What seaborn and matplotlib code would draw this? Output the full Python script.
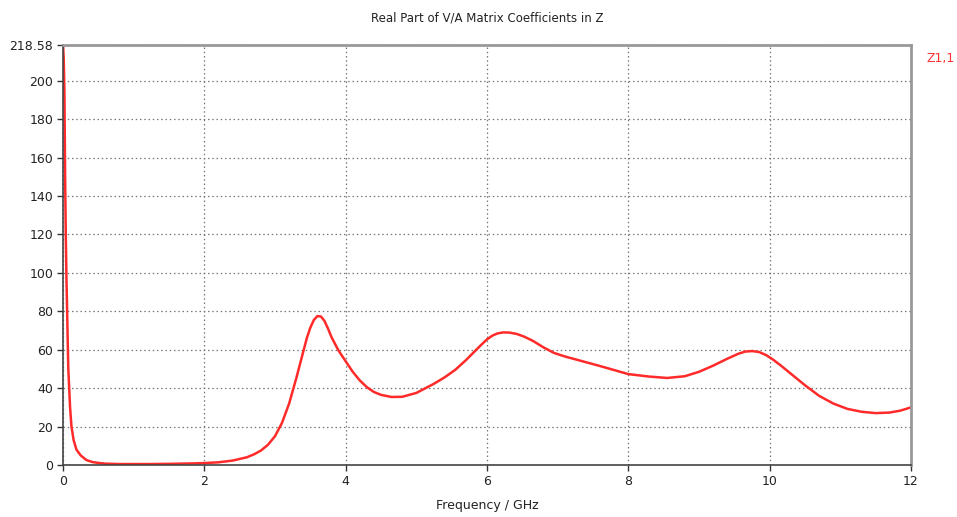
import matplotlib
matplotlib.use("Agg")
import matplotlib.pyplot as plt
import seaborn as sns
import pandas as pd

freq = [0.0, 0.01, 0.02, 0.03, 0.04, 0.05, 0.075, 0.10, 0.12, 0.15, 0.19, 0.25, 0.33, 0.42,
        0.52, 0.60, 0.80, 1.00, 1.20, 1.50, 1.80, 2.00, 2.20, 2.40, 2.60, 2.70, 2.80, 2.90, 3.00,
        3.10, 3.20, 3.30, 3.40, 3.45, 3.50, 3.55, 3.60, 3.65, 3.70, 3.75, 3.80, 3.90, 4.00, 4.10, 4.20,
        4.30, 4.40, 4.50, 4.65, 4.80, 5.00, 5.12, 5.25, 5.40, 5.55, 5.70, 5.83, 5.92, 6.00, 6.08, 6.15, 6.23,
        6.32, 6.42, 6.52, 6.65, 6.80, 6.95, 7.10, 7.30, 7.60, 8.00, 8.30, 8.55, 8.80, 9.00, 9.20, 9.40, 9.55,
        9.65, 9.75, 9.85, 9.95, 10.05, 10.15, 10.30, 10.50, 10.70, 10.90, 11.10, 11.30, 11.50, 11.70, 11.85,
        12.00]
z11 = [218.58, 212.0, 195.0, 150.0, 118.0, 95.0, 50.0, 30.0, 20.0, 13.0, 8.0, 5.0, 2.6, 1.5,
       1.0, 0.7, 0.5, 0.5, 0.5, 0.6, 0.8, 1.0, 1.4, 2.3, 4.0, 5.5, 7.5, 10.5, 15.0,
       22.0, 32.0, 45.0, 59.0, 66.0, 71.5, 75.5, 77.5, 77.3, 75.0, 71.0, 66.5, 59.5, 54.0, 48.5, 44.0,
       40.5, 38.0, 36.5, 35.4, 35.5, 37.5, 39.8, 42.3, 45.6, 49.5, 54.5, 59.3, 62.6, 65.4, 67.4, 68.5, 69.0,
       68.9, 68.2, 66.9, 64.6, 61.2, 58.3, 56.5, 54.5, 51.5, 47.3, 46.0, 45.3, 46.2, 48.5, 51.7, 55.3, 57.8,
       59.0, 59.3, 58.8, 57.2, 54.8, 52.0, 47.5, 41.5, 36.0, 32.0, 29.2, 27.7, 27.0, 27.3, 28.3,
       30.0]

title = "Real Part of V/A Matrix Coefficients in Z"
xlabel = "Frequency / GHz"
series_name = "Z1,1"
xticks = [0, 2, 4, 6, 8, 10, 12]
yticks = [0, 20, 40, 60, 80, 100, 120, 140, 160, 180, 200, 218.58]
ytick_labels = ["0", "20", "40", "60", "80", "100", "120", "140", "160", "180", "200", "218.58"]

df = pd.DataFrame({"freq": freq, "val": z11})

sns.set_theme(style="white")
plt.rcParams["font.family"] = ["DejaVu Sans"]

fig = plt.figure(figsize=(9.57, 5.17), dpi=100)
ax = fig.add_axes([63/957, 52/517, 848/957, 420/517])

sns.lineplot(data=df, x="freq", y="val", ax=ax, color="#ff2a2a", linewidth=1.8, sort=True)
ax.lines[-1].set_solid_joinstyle("round")

ax.set_xlim(0, 12)
ax.set_ylim(0, 218.58)
ax.set_xticks(xticks)
ax.set_xticklabels([str(t) for t in xticks])
ax.set_yticks(yticks)
ax.set_yticklabels(ytick_labels)
ax.grid(True, color="#777777", linestyle=(0, (1.2, 2.2)), linewidth=0.9)
ax.tick_params(axis="both", labelsize=9, colors="#333333", length=4, width=1, direction="out",
               left=True, bottom=True, pad=3)
ax.tick_params(axis="both", labelcolor="#222222")

for side in ["left", "bottom"]:
    ax.spines[side].set_color("#444444")
    ax.spines[side].set_linewidth(1.2)
for side in ["top", "right"]:
    ax.spines[side].set_color("#999999")
    ax.spines[side].set_linewidth(2.0)

ax.set_xlabel(xlabel, fontsize=9, color="#222222", labelpad=8)
ax.set_ylabel("")
ax.set_title(title, fontsize=8.5, color="#222222", pad=17)
ax.text(1.018, 0.968, series_name, transform=ax.transAxes, color="#ff3333", fontsize=9,
        ha="left", va="center")

fig.savefig("out.png", dpi=100, facecolor="white")
